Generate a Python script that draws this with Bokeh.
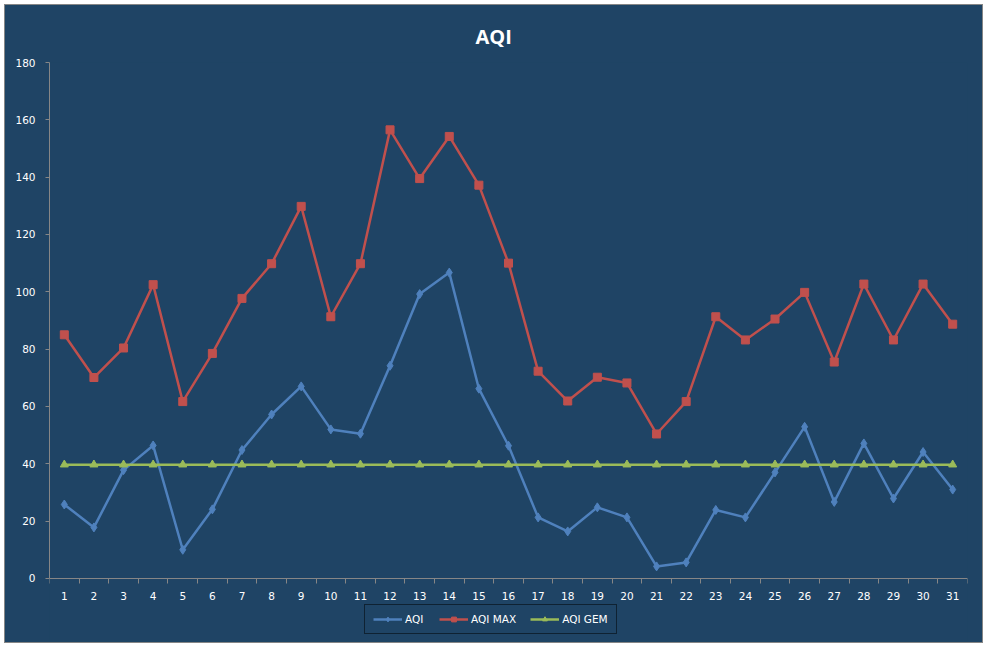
from bokeh.plotting import figure
from bokeh.layouts import column
from bokeh.models import FixedTicker, Legend, LegendItem, Range1d
from bokeh.embed import file_html
from bokeh.resources import INLINE

days = [1, 2, 3, 4, 5, 6, 7, 8, 9, 10, 11, 12, 13, 14, 15, 16,
        17, 18, 19, 20, 21, 22, 23, 24, 25, 26, 27, 28, 29, 30, 31]
aqi = [25.8, 17.8, 37.8, 46.4, 10.0, 24.1, 44.8, 57.2, 67.0, 52.0, 50.5,
       74.2, 99.2, 106.7, 66.2, 46.3, 21.3, 16.4, 24.8, 21.3, 4.2, 5.6,
       23.9, 21.3, 37.0, 52.9, 26.7, 47.1, 27.9, 44.1, 31.0]
aqi_max = [85.0, 70.1, 80.4, 102.5, 61.7, 78.5, 97.7, 109.8, 129.8, 91.3, 109.8,
           156.5, 139.5, 154.2, 137.2, 110.0, 72.3, 61.9, 70.2, 68.2, 50.4, 61.7,
           91.3, 83.2, 90.5, 99.8, 75.5, 102.7, 83.2, 102.7, 88.7]
aqi_gem = [39.7] * 31
y_ticks = [0, 20, 40, 60, 80, 100, 120, 140, 160, 180]

BG = "#1F4465"
AXIS = "#868686"
BLUE = "#4F81BD"
RED = "#C0504D"
GREEN = "#9BBB59"

p = figure(width=977, height=637, output_backend="svg", toolbar_location=None,
           x_range=Range1d(0.5, 31.5), y_range=Range1d(-22, 180),
           min_border_left=44, min_border_right=15, min_border_top=57,
           min_border_bottom=1, background_fill_color=None, border_fill_color=BG)
p.outline_line_color = None
p.outline_line_alpha = 0

p.title.text = "AQI"
p.title.align = "left"
p.title.vertical_align = "top"
p.title.text_color = "white"
p.title.text_font = "Open Sans"
p.title.text_font_style = "bold"
p.title.text_font_size = "20px"
p.title.standoff = 22
p.title.offset = 426

p.xgrid.visible = False
p.ygrid.visible = False

xa = p.xaxis[0]
xa.fixed_location = 0
xa.ticker = FixedTicker(ticks=days, minor_ticks=[d - 0.5 for d in days] + [days[-1] + 0.5])
xa.axis_line_color = AXIS
xa.major_tick_line_color = None
xa.minor_tick_line_color = AXIS
xa.minor_tick_in = 0
xa.minor_tick_out = 5
xa.major_label_text_color = "white"
xa.major_label_text_font = "DejaVu Sans"
xa.major_label_text_font_size = "10.5px"
xa.major_label_standoff = 8

ya = p.yaxis[0]
ya.bounds = (0, 180)
ya.ticker = FixedTicker(ticks=y_ticks, minor_ticks=[])
ya.axis_line_color = AXIS
ya.major_tick_line_color = AXIS
ya.major_tick_in = 0
ya.major_tick_out = 4
ya.minor_tick_line_color = None
ya.major_label_text_color = "white"
ya.major_label_text_font = "DejaVu Sans"
ya.major_label_text_font_size = "10.5px"
ya.major_label_standoff = 10

r1l = p.line(days, aqi, line_color=BLUE, line_width=2.5)
r1m = p.scatter(days, aqi, marker="diamond", size=9, fill_color=BLUE, line_color=BLUE)
r2l = p.line(days, aqi_max, line_color=RED, line_width=2.5)
r2m = p.scatter(days, aqi_max, marker="square", size=8, fill_color=RED, line_color=RED)
r3l = p.line(days, aqi_gem, line_color=GREEN, line_width=2.5)
r3m = p.scatter(days, aqi_gem, marker="triangle", size=8, fill_color=GREEN, line_color=GREEN)

legend = Legend(items=[LegendItem(label="AQI", renderers=[r1l, r1m]),
                       LegendItem(label="AQI MAX", renderers=[r2l, r2m]),
                       LegendItem(label="AQI GEM", renderers=[r3l, r3m])],
                orientation="horizontal", location=(315, 7),
                background_fill_color=BG, background_fill_alpha=1,
                border_line_color="black", border_line_width=1.5,
                label_text_color="white", label_text_font="DejaVu Sans",
                label_text_font_size="10.5px", glyph_width=29, glyph_height=12,
                label_height=12, label_standoff=3, spacing=14, padding=8, margin=0)
p.add_layout(legend, "center")

page = column(p, styles={"margin-left": "5px", "margin-top": "5px",
                         "background-color": BG,
                         "outline": "1px solid #868686"})

open("out.html", "w").write(file_html(page, INLINE))
